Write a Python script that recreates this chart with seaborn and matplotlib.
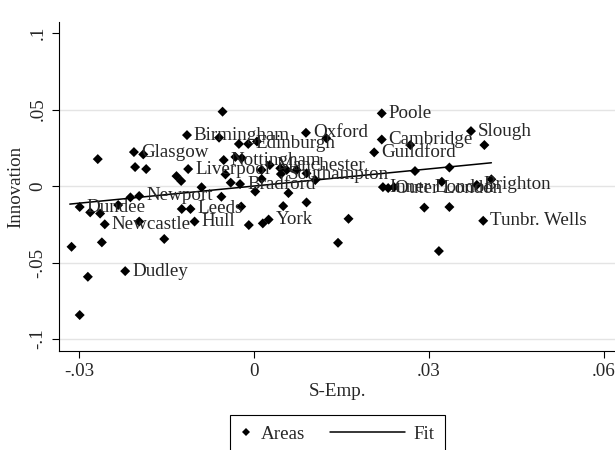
import matplotlib

matplotlib.use("Agg")

import matplotlib.pyplot as plt
import pandas as pd
import seaborn as sns
from matplotlib.legend_handler import HandlerLine2D
from matplotlib.lines import Line2D

# Areas: S-Emp. (x) against Innovation (y)
s_emp = [
    -0.0054, -0.0115, -0.0060, -0.0026, -0.0010, 0.0005, -0.0268, -0.0206,
    -0.0190, -0.0204, -0.0185, -0.0113, -0.0052, -0.0032, -0.0021, -0.0133,
    -0.0125, -0.0049, -0.0040, -0.0024, -0.0090, -0.0212, -0.0197, -0.0056,
    -0.0299, -0.0281, -0.0264, -0.0233, -0.0124, -0.0109, -0.0022, -0.0256,
    -0.0197, -0.0102, -0.0009, -0.0313, -0.0261, -0.0154, -0.0285, -0.0221,
    -0.0299, 0.0050, 0.0090, 0.0015, 0.0025, 0.0162, 0.0144, 0.0292,
    0.0335, 0.0317, 0.0393, 0.0372, 0.0395, 0.0335, 0.0322, 0.0382,
    0.0407, 0.0219, 0.0089, 0.0124, 0.0219, 0.0206, 0.0268, 0.0276,
    0.0221, 0.0230, 0.0240, 0.0013, 0.0002, 0.0059, 0.0105, 0.0027,
    0.0045, 0.0056, 0.0073, 0.0090, 0.0013, 0.0046,
]
innovation = [
    0.0486, 0.0333, 0.0316, 0.0275, 0.0275, 0.0291, 0.0176, 0.0222,
    0.0207, 0.0124, 0.0111, 0.0111, 0.0170, 0.0190, 0.0183, 0.0065,
    0.0033, 0.0076, 0.0022, 0.0013, -0.0008, -0.0074, -0.0065, -0.0070,
    -0.0137, -0.0172, -0.0180, -0.0124, -0.0150, -0.0150, -0.0134, -0.0250,
    -0.0232, -0.0232, -0.0255, -0.0397, -0.0368, -0.0346, -0.0593, -0.0556,
    -0.0843, -0.0131, -0.0107, -0.0244, -0.0219, -0.0214, -0.0371, -0.0141,
    -0.0137, -0.0425, -0.0227, 0.0359, 0.0268, 0.0121, 0.0028, 0.0007,
    0.0044, 0.0475, 0.0348, 0.0312, 0.0304, 0.0220, 0.0268, 0.0098,
    -0.0007, -0.0013, -0.0007, 0.0046, -0.0036, -0.0046, 0.0039, 0.0137,
    0.0116, 0.0105, 0.0105, 0.0083, 0.0105, 0.0078,
]
area_names = [
    "", "Birmingham", "", "", "Edinburgh", "", "", "Glasgow",
    "", "", "", "Liverpool", "Nottingham", "", "", "",
    "", "", "", "Bradford", "", "", "Newport", "",
    "Dundee", "", "", "", "", "Leeds", "", "Newcastle",
    "", "Hull", "", "", "", "", "", "Dudley",
    "", "", "", "", "York", "", "", "",
    "", "", "Tunbr. Wells", "Slough", "", "", "", "Brighton",
    "", "Poole", "Oxford", "", "Cambridge", "Guildford", "", "",
    "Inner London", "Outer London", "", "", "", "", "", "Manchester",
    "", "", "", "", "", "Southampton",
]

# fitted line, end points
fit_x = [-0.0316, 0.0407]
fit_y = [-0.0118, 0.0152]

x_ticks = [-0.03, 0, 0.03, 0.06]
x_tick_labels = ["-.03", "0", ".03", ".06"]
y_ticks = [-0.1, -0.05, 0, 0.05, 0.1]
y_tick_labels = ["-.1", "-.05", "0", ".05", ".1"]

FONT = 13.7


class LongLineHandler(HandlerLine2D):
    """Draws the legend line further to the left than the handle box."""

    def create_artists(self, legend, orig_handle, xdescent, ydescent, width, height, fontsize, trans):
        extra = 3.3 * fontsize
        return super().create_artists(
            legend, orig_handle, xdescent + extra, ydescent, width + extra, height, fontsize, trans
        )


df = pd.DataFrame({"s_emp": s_emp, "innovation": innovation, "name": area_names})
fit_df = pd.DataFrame({"s_emp": fit_x, "innovation": fit_y})

sns.set_theme(style="white")
plt.rcParams["font.family"] = ["Liberation Serif", "DejaVu Serif"]

fig = plt.figure(figsize=(6.15, 4.5), dpi=100)
ax = fig.add_axes([59 / 615, 1 - 351 / 450, 1 - 59 / 615, (351 - 22) / 450])

sns.lineplot(data=fit_df, x="s_emp", y="innovation", ax=ax, color="black", linewidth=1.1)
sns.scatterplot(
    data=df, x="s_emp", y="innovation", ax=ax, marker="D", s=26,
    color="black", edgecolor="none", linewidth=0, zorder=3,
)
for _, row in df[df["name"] != ""].iterrows():
    ax.annotate(
        row["name"], (row["s_emp"], row["innovation"]), xytext=(5, 0),
        textcoords="offset points", ha="left", va="center", fontsize=FONT, zorder=4,
    )

ax.set_xlim(-0.03345, 0.0619)
ax.set_ylim(-0.1078, 0.1072)
ax.set_xticks(x_ticks, x_tick_labels)
ax.set_yticks(y_ticks, y_tick_labels)
ax.tick_params(axis="both", direction="out", length=5, width=0.8, color="black",
               labelsize=FONT, pad=4, left=True, bottom=True)
for label in ax.get_yticklabels():
    label.set_rotation(90)
    label.set_va("center")
ax.yaxis.grid(True, color="#e4e4e4", linewidth=1.0)
ax.get_ygridlines()[-1].set_visible(False)
ax.set_axisbelow(True)

for side in ["top", "right"]:
    ax.spines[side].set_visible(False)
for side in ["left", "bottom"]:
    ax.spines[side].set_color("black")
    ax.spines[side].set_linewidth(0.8)

ax.set_xlabel("S-Emp.", fontsize=FONT, labelpad=2)
ax.set_ylabel("Innovation", fontsize=FONT, labelpad=4)

area_handle = Line2D([], [], linestyle="none", marker="D", markersize=4.4,
                     color="black", markeredgewidth=0)
fit_handle = Line2D([], [], color="black", linewidth=1.1)
legend = ax.legend(
    [area_handle, fit_handle], ["Areas", "Fit"], ncol=2,
    loc="upper center", bbox_to_anchor=(337.5 / 615, 1 - 415 / 450),
    bbox_transform=fig.transFigure, borderaxespad=0, fontsize=FONT,
    frameon=True, fancybox=False, framealpha=1, edgecolor="black",
    handlelength=0.63, handletextpad=0.47, columnspacing=4.6, borderpad=0.55,
    numpoints=1, handler_map={fit_handle: LongLineHandler()},
)
legend.get_frame().set_linewidth(0.8)

fig.savefig("out.png", dpi=100)
plt.close(fig)
